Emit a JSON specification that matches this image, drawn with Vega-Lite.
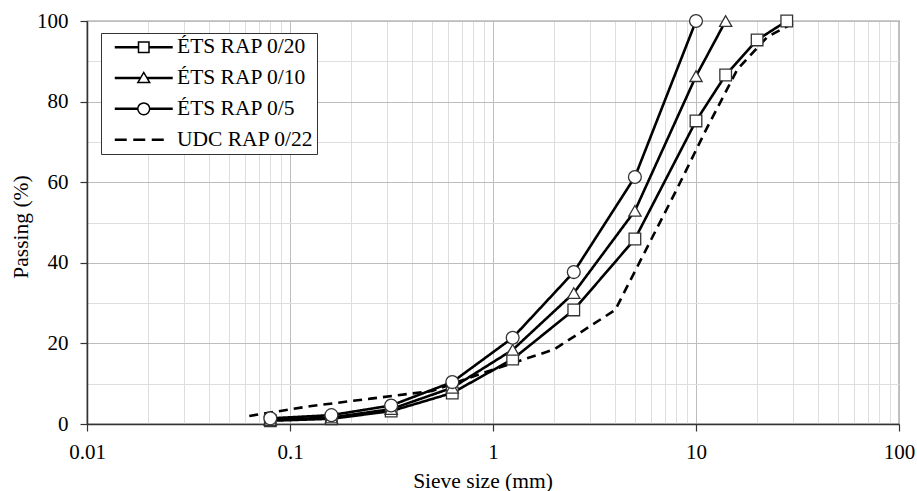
{
  "$schema": "https://vega.github.io/schema/vega-lite/v6.json",
  "width": 812,
  "height": 403,
  "autosize": {"type": "none"},
  "padding": {"left": 87, "top": 21, "right": 18, "bottom": 67},
  "background": "white",
  "config": {
    "font": "Liberation Serif",
    "view": {"stroke": "#333333", "strokeWidth": 1.2},
    "axis": {
      "labelFont": "Liberation Serif",
      "labelFontSize": 21,
      "labelColor": "black",
      "titleFont": "Liberation Serif",
      "titleFontSize": 21.5,
      "titleFontWeight": "normal",
      "titleColor": "black",
      "domainColor": "#333333",
      "domainWidth": 1.5,
      "tickColor": "#333333",
      "tickWidth": 1.2,
      "tickSize": 7,
      "gridWidth": 1,
      "labelFlush": false,
      "labelOverlap": false
    }
  },
  "data": {
    "values": [
      {"series": "ÉTS RAP 0/20", "size": 0.08, "passing": 0.8},
      {"series": "ÉTS RAP 0/20", "size": 0.16, "passing": 1.3},
      {"series": "ÉTS RAP 0/20", "size": 0.315, "passing": 3.2},
      {"series": "ÉTS RAP 0/20", "size": 0.63, "passing": 7.7},
      {"series": "ÉTS RAP 0/20", "size": 1.25, "passing": 16.1},
      {"series": "ÉTS RAP 0/20", "size": 2.5, "passing": 28.3},
      {"series": "ÉTS RAP 0/20", "size": 5, "passing": 45.9},
      {"series": "ÉTS RAP 0/20", "size": 10, "passing": 75.2},
      {"series": "ÉTS RAP 0/20", "size": 14, "passing": 86.6},
      {"series": "ÉTS RAP 0/20", "size": 20, "passing": 95.3},
      {"series": "ÉTS RAP 0/20", "size": 28, "passing": 100},
      {"series": "ÉTS RAP 0/10", "size": 0.08, "passing": 1.0},
      {"series": "ÉTS RAP 0/10", "size": 0.16, "passing": 1.6},
      {"series": "ÉTS RAP 0/10", "size": 0.315, "passing": 3.7},
      {"series": "ÉTS RAP 0/10", "size": 0.63, "passing": 9.0},
      {"series": "ÉTS RAP 0/10", "size": 1.25, "passing": 18.4},
      {"series": "ÉTS RAP 0/10", "size": 2.5, "passing": 32.5},
      {"series": "ÉTS RAP 0/10", "size": 5, "passing": 52.9},
      {"series": "ÉTS RAP 0/10", "size": 10, "passing": 86.3},
      {"series": "ÉTS RAP 0/10", "size": 14, "passing": 100},
      {"series": "ÉTS RAP 0/5", "size": 0.08, "passing": 1.4},
      {"series": "ÉTS RAP 0/5", "size": 0.16, "passing": 2.2},
      {"series": "ÉTS RAP 0/5", "size": 0.315, "passing": 4.6},
      {"series": "ÉTS RAP 0/5", "size": 0.63, "passing": 10.4},
      {"series": "ÉTS RAP 0/5", "size": 1.25, "passing": 21.4},
      {"series": "ÉTS RAP 0/5", "size": 2.5, "passing": 37.7},
      {"series": "ÉTS RAP 0/5", "size": 5, "passing": 61.3},
      {"series": "ÉTS RAP 0/5", "size": 10, "passing": 100},
      {"series": "UDC RAP 0/22", "size": 0.063, "passing": 2.0},
      {"series": "UDC RAP 0/22", "size": 0.125, "passing": 4.4},
      {"series": "UDC RAP 0/22", "size": 0.25, "passing": 6.3},
      {"series": "UDC RAP 0/22", "size": 0.5, "passing": 8.2},
      {"series": "UDC RAP 0/22", "size": 1, "passing": 13.5},
      {"series": "UDC RAP 0/22", "size": 2, "passing": 18.5},
      {"series": "UDC RAP 0/22", "size": 4, "passing": 28.3},
      {"series": "UDC RAP 0/22", "size": 8, "passing": 58},
      {"series": "UDC RAP 0/22", "size": 11.2, "passing": 73},
      {"series": "UDC RAP 0/22", "size": 16, "passing": 88},
      {"series": "UDC RAP 0/22", "size": 22.4, "passing": 96},
      {"series": "UDC RAP 0/22", "size": 31.5, "passing": 100}
    ]
  },
  "encoding": {
    "x": {
      "field": "size",
      "type": "quantitative",
      "title": "Sieve size (mm)",
      "scale": {"type": "log", "domain": [0.01, 100]},
      "axis": {
        "values": [0.01, 0.02, 0.03, 0.04, 0.05, 0.06, 0.07, 0.08, 0.09, 0.1, 0.2, 0.3, 0.4, 0.5, 0.6, 0.7, 0.8, 0.9, 1, 2, 3, 4, 5, 6, 7, 8, 9, 10, 20, 30, 40, 50, 60, 70, 80, 90, 100],
        "format": "~g",
        "labelExpr": "indexof([0.01, 0.1, 1, 10, 100], datum.value) >= 0 ? datum.label : ''",
        "gridColor": {"condition": {"test": "indexof([0.01, 0.1, 1, 10, 100], datum.value) >= 0", "value": "#bdbdbd"}, "value": "#dedede"},
        "tickOpacity": {"condition": {"test": "indexof([0.01, 0.1, 1, 10, 100], datum.value) >= 0", "value": 1}, "value": 0},
        "labelPadding": 10,
        "titleX": 395.5,
        "titleY": 63,
        "titleAlign": "center",
        "titleBaseline": "alphabetic"
      }
    },
    "y": {
      "field": "passing",
      "type": "quantitative",
      "title": "Passing (%)",
      "scale": {"domain": [0, 100]},
      "axis": {
        "values": [0, 10, 20, 30, 40, 50, 60, 70, 80, 90, 100],
        "labelExpr": "datum.value % 20 === 0 ? datum.label : ''",
        "gridColor": {"condition": {"test": "datum.value % 20 === 0", "value": "#bdbdbd"}, "value": "#dedede"},
        "tickOpacity": {"condition": {"test": "datum.value % 20 === 0", "value": 1}, "value": 0},
        "labelPadding": 12,
        "titleX": -66,
        "titleY": 205.5,
        "titleAngle": -90,
        "titleAlign": "center",
        "titleBaseline": "middle"
      }
    }
  },
  "layer": [
    {
      "mark": {"type": "line", "color": "black", "strokeWidth": 2.6},
      "encoding": {
        "detail": {"field": "series", "type": "nominal"},
        "strokeDash": {
          "field": "series",
          "type": "nominal",
          "scale": {"domain": ["ÉTS RAP 0/20", "ÉTS RAP 0/10", "ÉTS RAP 0/5", "UDC RAP 0/22"], "range": [[1, 0], [1, 0], [1, 0], [9, 6]]},
          "legend": null
        }
      }
    },
    {
      "transform": [{"filter": "datum.series !== 'UDC RAP 0/22'"}],
      "mark": {"type": "point", "filled": true, "fill": "white", "stroke": "#333333", "strokeWidth": 1.3, "opacity": 1},
      "encoding": {
        "shape": {
          "field": "series",
          "type": "nominal",
          "scale": {"domain": ["ÉTS RAP 0/20", "ÉTS RAP 0/10", "ÉTS RAP 0/5"], "range": ["square", "triangle-up", "circle"]},
          "legend": null
        },
        "size": {
          "field": "series",
          "type": "nominal",
          "scale": {"domain": ["ÉTS RAP 0/20", "ÉTS RAP 0/10", "ÉTS RAP 0/5"], "range": [135, 165, 160]},
          "legend": null
        }
      }
    },
    {
      "mark": {"type": "point", "filled": true, "fill": "white", "stroke": "black", "strokeWidth": 1.5, "opacity": 0, "size": 196},
      "encoding": {
        "shape": {
          "field": "series",
          "type": "nominal",
          "scale": {
            "domain": ["ÉTS RAP 0/20", "ÉTS RAP 0/10", "ÉTS RAP 0/5", "UDC RAP 0/22"],
            "range": [
              "M-4.14,-0.07H-0.75M-4.14,0.07H-0.75M0.75,-0.07H4.14M0.75,0.07H4.14M-0.75,-0.75H0.75V0.75H-0.75Z",
              "M-4.14,-0.07H-0.5M-4.14,0.07H-0.5M0.5,-0.07H4.14M0.5,0.07H4.14M-0.85,0.65L0,-0.8L0.85,0.65Z",
              "M-4.14,-0.07H-0.85M-4.14,0.07H-0.85M0.85,-0.07H4.14M0.85,0.07H4.14M-0.85,0A0.85,0.85 0 1,0 0.85,0A0.85,0.85 0 1,0 -0.85,0Z",
              "M-4.14,-0.07H-2.43M-4.14,0.07H-2.43M-1.5,-0.07H0.21M-1.5,0.07H0.21M1.14,-0.07H2.86M1.14,0.07H2.86"
            ]
          },
          "legend": {
            "title": null,
            "orient": "none",
            "legendX": 14,
            "legendY": 12,
            "padding": 3.5,
            "rowPadding": 7.8,
            "strokeColor": "#333333",
            "fillColor": "white",
            "symbolSize": 196,
            "symbolOffset": 28.5,
            "labelOffset": 22.5,
            "labelFont": "Liberation Serif",
            "labelFontSize": 21.5,
            "labelColor": "black",
            "labelLimit": 400,
            "labelExpr": "datum.label + '\u2007\u2007'",
            "encode": {
              "symbols": {
                "update": {
                  "opacity": {"value": 1},
                  "fill": {"value": "white"},
                  "stroke": {"value": "black"},
                  "strokeWidth": {"value": 1.5},
                  "size": {"value": 196}
                }
              }
            }
          }
        }
      }
    }
  ],
  "resolve": {"scale": {"shape": "independent"}, "legend": {"shape": "independent"}}
}
